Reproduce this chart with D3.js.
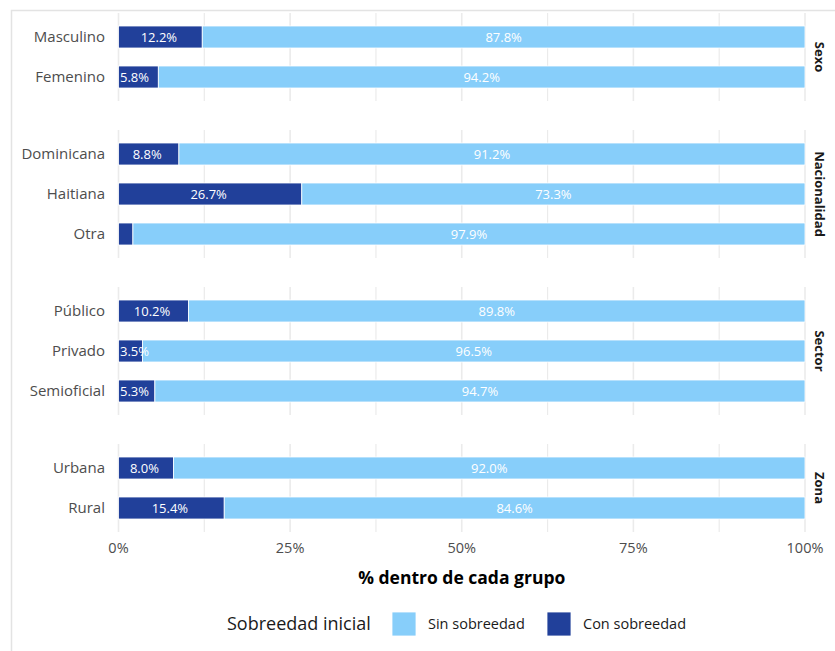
<!DOCTYPE html>
<html>
<head>
<meta charset="utf-8">
<script src="https://cdn.jsdelivr.net/npm/d3@7"></script>
<style>
  html, body { margin: 0; padding: 0; background: #fff; }
  svg { display: block; font-family: "Open Sans", "Noto Sans", sans-serif; }
</style>
</head>
<body>
<svg id="chart" width="835" height="651"></svg>
<script>
// ---- data ----
const groups = ["Sexo", "Nacionalidad", "Sector", "Zona"];
const groupOf = ["Sexo", "Sexo", "Nacionalidad", "Nacionalidad", "Nacionalidad", "Sector", "Sector", "Sector", "Zona", "Zona"];
const categories = ["Masculino", "Femenino", "Dominicana", "Haitiana", "Otra", "Público", "Privado", "Semioficial", "Urbana", "Rural"];
const conSobreedad = [12.2, 5.8, 8.8, 26.7, 2.1, 10.2, 3.5, 5.3, 8.0, 15.4];
const sinSobreedad = [87.8, 94.2, 91.2, 73.3, 97.9, 89.8, 96.5, 94.7, 92.0, 84.6];
const xTicks = [0, 25, 50, 75, 100];
const xTickLabels = ["0%", "25%", "50%", "75%", "100%"];
const legendTitle = "Sobreedad inicial";
const seriesNames = ["Sin sobreedad", "Con sobreedad"];
const xTitle = "% dentro de cada grupo";

const colDark = "#21409A";
const colLight = "#87CEFA";
const textGrey = "#4d4d4d";

const svg = d3.select("#chart");

// outer card border
svg.append("path")
  .attr("d", "M11.5,651 L11.5,10.5 L835,10.5")
  .attr("fill", "none").attr("stroke", "#e3e3e3").attr("stroke-width", 1.5);

const x = d3.scaleLinear().domain([0, 100]).range([118.5, 805]);

const step = 40, gap = 29, top0 = 13;
let cursor = top0;
const panels = groups.map(g => {
  const cats = categories.filter((c, i) => groupOf[i] === g);
  const h = step * (cats.length + 0.2);
  const p = { g, cats, y0: cursor, y1: cursor + h };
  cursor += h + gap;
  return p;
});

const minorTicks = d3.range(0, 101, 12.5);

panels.forEach(p => {
  const y = d3.scaleBand().domain(p.cats).range([p.y0, p.y1])
    .paddingInner(0.45).paddingOuter(0.325);
  const gP = svg.append("g");

  // grid
  gP.selectAll("line.grid").data(minorTicks).join("line")
    .attr("x1", d => x(d)).attr("x2", d => x(d))
    .attr("y1", p.y0).attr("y2", p.y1)
    .attr("stroke", "#ebebeb").attr("stroke-width", d => d % 25 === 0 ? 1.6 : 1.2);

  const rows = p.cats.map(c => {
    const i = categories.indexOf(c);
    return { c, con: conSobreedad[i], sin: sinSobreedad[i] };
  });

  // dark segments
  gP.selectAll("rect.con").data(rows).join("rect")
    .attr("x", x(0)).attr("y", d => y(d.c))
    .attr("width", d => x(d.con) - x(0)).attr("height", y.bandwidth())
    .attr("fill", colDark).attr("stroke", "#fff").attr("stroke-width", 0.8);
  // light segments
  gP.selectAll("rect.sin").data(rows).join("rect")
    .attr("x", d => x(d.con)).attr("y", d => y(d.c))
    .attr("width", d => x(100) - x(d.con)).attr("height", y.bandwidth())
    .attr("fill", colLight).attr("stroke", "#fff").attr("stroke-width", 0.8);

  // value labels
  const fmt = v => v.toFixed(1) + "%";
  const small = d => d.con < 6;
  gP.selectAll("text.con").data(rows.filter(d => d.con >= 3)).join("text")
    .attr("x", d => small(d) ? x(0) + 1.5 : x(d.con / 2) - 1.5)
    .attr("y", d => y(d.c) + y.bandwidth() / 2)
    .attr("dy", "0.36em").attr("text-anchor", d => small(d) ? "start" : "middle")
    .attr("fill", "#fff").attr("font-size", 13).text(d => fmt(d.con));
  gP.selectAll("text.sin").data(rows).join("text")
    .attr("x", d => x(d.con + d.sin / 2)).attr("y", d => y(d.c) + y.bandwidth() / 2)
    .attr("dy", "0.36em").attr("text-anchor", "middle")
    .attr("fill", "#fff").attr("font-size", 13).text(d => fmt(d.sin));

  // category labels
  gP.selectAll("text.cat").data(p.cats).join("text")
    .attr("x", 105).attr("y", d => y(d) + y.bandwidth() / 2)
    .attr("dy", "0.36em").attr("text-anchor", "end")
    .attr("fill", textGrey).attr("font-size", 15).text(d => d);

  // strip label
  const cy = (p.y0 + p.y1) / 2;
  svg.append("text")
    .attr("transform", `translate(820,${cy}) rotate(90)`)
    .attr("text-anchor", "middle").attr("dy", "0.36em")
    .attr("font-size", 13).attr("font-weight", "bold").attr("fill", "#1a1a1a")
    .text(p.g);
});

// x axis tick labels
const lastY = panels[panels.length - 1].y1;
svg.append("g").selectAll("text").data(xTicks).join("text")
  .attr("x", d => x(d)).attr("y", lastY + 16).attr("dy", "0.36em")
  .attr("text-anchor", "middle").attr("fill", textGrey).attr("font-size", 14.5)
  .text((d, i) => xTickLabels[i]);

// x title
svg.append("text")
  .attr("x", (x(0) + x(100)) / 2).attr("y", 578).attr("dy", "0.36em")
  .attr("text-anchor", "middle").attr("font-size", 17.5).attr("font-weight", "bold")
  .attr("fill", "#000").text(xTitle);

// legend
const lg = svg.append("g");
lg.append("text").attr("x", 227).attr("y", 624).attr("dy", "0.36em")
  .attr("font-size", 18).attr("fill", "#1a1a1a").text(legendTitle);
const keyX = [392, 547];
const keyCols = [colLight, colDark];
seriesNames.forEach((s, i) => {
  lg.append("rect").attr("x", keyX[i]).attr("y", 612).attr("width", 24).attr("height", 24)
    .attr("fill", keyCols[i]).attr("stroke", "#fff").attr("stroke-width", 0.8);
  lg.append("text").attr("x", keyX[i] + 36).attr("y", 624).attr("dy", "0.36em")
    .attr("font-size", 14.5).attr("fill", "#1a1a1a").text(s);
});
</script>
</body>
</html>
